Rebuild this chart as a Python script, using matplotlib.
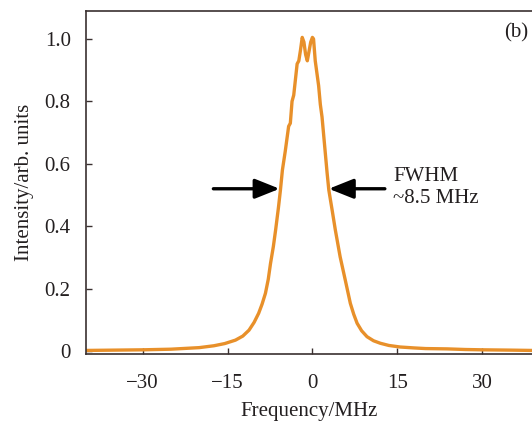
import matplotlib
matplotlib.use("Agg")
from matplotlib import pyplot as plt

# spectrum
freq = [-40, -35, -30, -25, -20, -17.4, -15.5, -13.6, -12.3, -11.2, -10.3, -9.5, -8.9, -8.3,
        -7.8, -7.4, -6.9, -6.5, -6.0, -5.65, -5.3, -4.8, -4.5, -4.2, -3.9, -3.6, -3.3, -3.0,
        -2.7, -2.4, -2.1, -1.8, -1.5, -1.2, -0.9, -0.6, -0.3, 0.0, 0.2, 0.5, 0.8, 1.1, 1.4,
        1.7, 2.0, 2.3, 2.6, 2.9, 3.5, 4.05, 4.9, 5.8, 6.7, 7.3, 7.9, 8.7, 9.65, 10.8, 12.0,
        13.5, 15.5, 18, 20, 23.8, 27, 30, 35, 38.8]
intensity = [0.002, 0.003, 0.004, 0.006, 0.011, 0.017, 0.024, 0.035, 0.048, 0.067, 0.092, 0.121,
             0.15, 0.185, 0.23, 0.281, 0.335, 0.388, 0.46, 0.516, 0.58, 0.64, 0.68, 0.72, 0.73,
             0.80, 0.82, 0.87, 0.92, 0.93, 0.965, 1.005, 0.99, 0.95, 0.93, 0.96, 0.99, 1.005,
             1.0, 0.93, 0.89, 0.85, 0.79, 0.75, 0.69, 0.63, 0.57, 0.516, 0.45, 0.388, 0.302,
             0.228, 0.153, 0.118, 0.089, 0.065, 0.046, 0.033, 0.025, 0.018, 0.013, 0.010,
             0.008, 0.007, 0.005, 0.004, 0.003, 0.002]

xticks = [-30, -15, 0, 15, 30]
xtick_labels = ["\u221230", "\u221215", "0", "15", "30"]
yticks = [0, 0.2, 0.4, 0.6, 0.8, 1.0]
ytick_labels = ["0", "0.2", "0.4", "0.6", "0.8", "1.0"]

fwhm_y = 0.52
left_arrow = (-17.5, -5.8)
right_arrow = (12.8, 2.9)

plt.rcParams["font.family"] = ["Liberation Serif", "DejaVu Serif"]
txt_color = "#231f20"

fig = plt.figure(figsize=(5.32, 4.21), dpi=100)
ax = fig.add_axes([0.1617, 0.159, 0.8383, 0.815])

ax.plot(freq, intensity, color="#E8902A", lw=2.4, solid_joinstyle="round")

ax.set_xlim(-40, 38.8)
ax.set_ylim(-0.0096, 1.0897)
ax.set_xticks(xticks)
ax.set_xticklabels(xtick_labels)
ax.set_yticks(yticks)
ax.set_yticklabels(ytick_labels)
ax.tick_params(direction="in", length=4, width=1, color="#3a3030", labelsize=15,
               labelcolor=txt_color)
ax.tick_params(axis="x", pad=14)
ax.tick_params(axis="y", pad=11)

ax.spines["right"].set_visible(False)
for side in ["left", "bottom", "top"]:
    ax.spines[side].set_color("#3a3030")
    ax.spines[side].set_linewidth(1.2)

ax.set_xlabel("Frequency/MHz", fontsize=15, color=txt_color, labelpad=7)
ax.set_ylabel("Intensity/arb. units", fontsize=15, color=txt_color, labelpad=8)

# FWHM arrows
arrow_style = dict(arrowstyle="-|>,head_length=1.5,head_width=0.6", color="black", lw=2.4,
                   shrinkA=0, shrinkB=0)
ax.annotate("", xy=(left_arrow[1], fwhm_y), xytext=(left_arrow[0], fwhm_y),
            arrowprops=arrow_style)
ax.annotate("", xy=(right_arrow[1], fwhm_y), xytext=(right_arrow[0], fwhm_y),
            arrowprops=arrow_style)

ax.text(14.3, 0.59, "FWHM\n~8.5 MHz", fontsize=15, color=txt_color,
        ha="left", va="top", linespacing=1.2)
ax.text(33.8, 1.02, "(b)", fontsize=15, color=txt_color, ha="left", va="center")

fig.savefig("out.png", dpi=100)
